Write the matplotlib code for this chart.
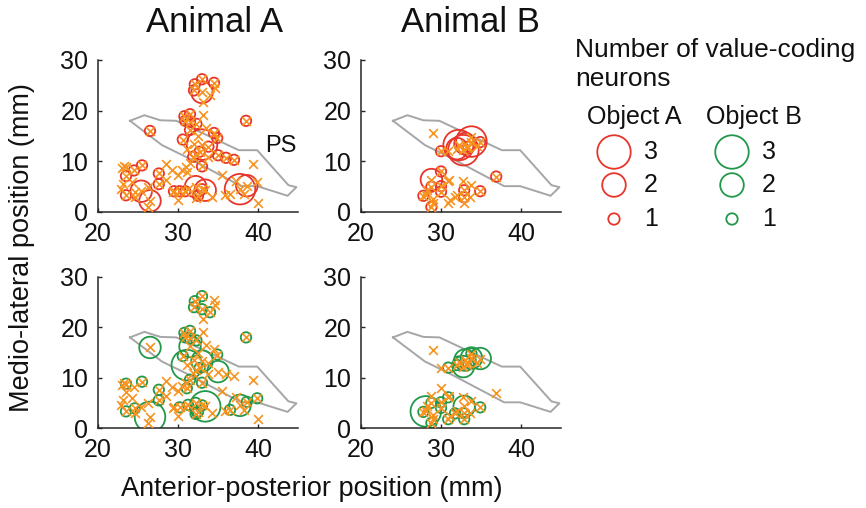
import matplotlib
matplotlib.use('Agg')
import matplotlib.pyplot as plt
import numpy as np

plt.rcParams['font.family'] = ['Liberation Sans', 'DejaVu Sans']

# ---------------- data ----------------
# Animal A recording sites: x (AP, mm), y (ML, mm), # value neurons for Object A / Object B
animalA_x = [33.0, 34.5, 32.1, 32.0, 33.0, 34.6, 34.0, 33.1,
             30.8, 31.5, 30.9, 31.5, 32.3, 33.1, 31.5, 30.6, 34.5, 34.9, 33.0, 33.8,
             32.7, 31.1, 31.9, 33.0, 35.0, 36.0, 37.0, 38.5, 26.5, 31.5, 31.1,
             32.5, 33.5, 32.0, 33.8, 32.3, 39.4, 35.5, 37.3, 35.9, 40.0,
             37.75, 38.6, 39.9, 36.5, 38.2,
             33.4, 29.5, 30.2, 30.9, 32.2, 32.5, 33.0, 32.2, 31.25, 29.4, 30.0, 34.2,
             25.5, 24.5, 23.5, 27.6, 27.6, 23.5, 25.4, 26.5, 23.5, 24.6,
             28.5, 28.5, 30.0, 31.0, 23.1, 22.9, 24.2, 26.25, 26.25, 24.6, 23.0, 23.3, 30.5, 29.2]
animalA_y = [26.2, 25.5, 25.2, 24.0, 23.6, 24.4, 23.0, 21.7,
             18.9, 19.3, 18.0, 17.8, 17.4, 19.1, 16.2, 14.3, 15.6, 14.6, 13.3, 12.9,
             11.9, 12.5, 10.9, 9.0, 11.2, 10.7, 10.3, 18.0, 16.0, 9.6, 7.9,
             15.0, 16.5, 13.5, 10.8, 11.5, 9.5, 7.4, 6.2, 3.4, 1.8,
             4.5, 5.2, 5.9, 3.6, 3.5,
             4.3, 4.1, 4.1, 4.1, 5.0, 3.2, 4.5, 2.8, 4.6, 3.9, 2.4, 3.0,
             9.2, 8.2, 7.1, 7.6, 5.5, 3.3, 4.1, 2.2, 8.8, 3.9,
             9.4, 6.3, 7.4, 8.9, 5.6, 4.6, 5.9, 5.0, 0.9, 2.9, 8.6, 9.0, 8.3, 8.2]
animalA_objA = [1, 1, 1, 1, 2, 0, 0, 0,
                1, 1, 1, 1, 1, 0, 1, 1, 1, 1, 3, 1,
                1, 0, 1, 1, 1, 1, 1, 1, 1, 0, 0,
                0, 0, 0, 0, 0, 0, 0, 0, 0, 0,
                3, 2, 0, 0, 0,
                2, 1, 1, 1, 2, 1, 1, 0, 0, 0, 0, 0,
                1, 1, 1, 1, 1, 1, 2, 2, 0, 0,
                0, 0, 0, 0, 0, 0, 0, 0, 0, 0, 0, 0, 0, 0]
animalA_objB = [1, 0, 1, 1, 1, 0, 1, 0,
                1, 1, 1, 1, 1, 0, 2, 1, 0, 1, 2, 0,
                1, 3, 0, 1, 2, 0, 0, 1, 2, 1, 1,
                0, 0, 0, 0, 0, 0, 0, 0, 0, 0,
                2, 1, 1, 1, 0,
                3, 0, 1, 0, 1, 1, 1, 1, 1, 0, 0, 0,
                1, 0, 0, 1, 1, 1, 0, 3, 1, 1,
                0, 0, 0, 0, 0, 0, 0, 0, 0, 0, 0, 0, 0, 0]

# Animal B recording sites
animalB_x = [29.0, 30.0, 36.9, 30.0, 32.2, 33.0, 33.8, 34.9, 32.0, 32.8, 33.4, 33.8, 30.9, 34.5, 33.2,
             28.8, 28.8, 30.0, 30.0, 27.8, 28.8, 32.9, 32.9, 34.9, 28.1, 30.9, 30.9, 31.75, 32.9,
             31.0, 32.8, 33.8, 31.1, 32.0, 33.6, 28.2, 29.0, 29.0]
animalB_y = [15.5, 12.0, 7.0, 8.0, 13.2, 13.5, 13.9, 13.8, 12.5, 12.2, 12.9, 14.8, 12.0, 13.0, 12.6,
             6.4, 5.0, 5.1, 4.0, 3.2, 1.0, 4.3, 2.9, 4.1, 3.3, 6.1, 1.75, 2.9, 1.75,
             6.3, 6.2, 5.3, 2.3, 3.3, 3.0, 4.3, 2.6, 1.8]
animalB_objA = [0, 1, 1, 1, 3, 2, 3, 1, 2, 3, 1, 0, 0, 0, 0,
                2, 1, 1, 1, 1, 1, 1, 1, 1, 0, 0, 0, 0, 0,
                0, 0, 0, 0, 0, 0, 0, 0, 0]
animalB_objB = [0, 0, 0, 0, 1, 2, 2, 2, 1, 2, 0, 1, 1, 0, 0,
                0, 1, 1, 1, 1, 1, 2, 1, 1, 3, 1, 1, 1, 1,
                0, 0, 0, 0, 0, 0, 0, 0, 0]

# principal sulcus outline
ps_x = [24.0, 25.8, 27.8, 29.8, 37.6, 39.9, 43.8, 44.8, 43.7, 39.9, 37.9, 31.1, 28.0, 24.0]
ps_y = [18.0, 19.1, 18.1, 18.0, 12.2, 12.2, 5.3, 4.9, 3.2, 5.1, 5.1, 10.8, 13.2, 18.0]

legend_counts = [3, 2, 1]
titles = ['Animal A', 'Animal B']

# ---------------- style ----------------
RED = '#E8352B'
GREEN = '#22984A'
ORANGE = '#F7931E'
GRAY = '#A6A6A6'
AXC = '#262626'
diam = {1: 7.5, 2: 15.5, 3: 22.0}  # marker diameter in points

W, H = 866, 508
fig = plt.figure(figsize=(W / 100, H / 100), dpi=100)

def px_axes(x0, y0, x1, y1):
    return fig.add_axes([x0 / W, 1 - y1 / H, (x1 - x0) / W, (y1 - y0) / H])

ax_boxes = [[(98, 60, 298, 212), (361, 60, 561, 212)],
            [(98, 277, 298, 428), (361, 277, 561, 428)]]

animals = [(animalA_x, animalA_y, animalA_objA, animalA_objB),
           (animalB_x, animalB_y, animalB_objA, animalB_objB)]

for r in range(2):
    for c in range(2):
        ax = px_axes(*ax_boxes[r][c])
        xs, ys, ca, cb = animals[c]
        counts = ca if r == 0 else cb
        col = RED if r == 0 else GREEN
        ax.plot(ps_x, ps_y, color=GRAY, lw=1.4, zorder=1)
        xs_a = np.array(xs); ys_a = np.array(ys); cn = np.array(counts)
        m = cn > 0
        ax.scatter(xs_a[m], ys_a[m], s=[diam[k] ** 2 for k in cn[m]], facecolors='none',
                   edgecolors=col, linewidths=1.3, zorder=2)
        ax.scatter(xs_a, ys_a, marker='x', s=40, color=ORANGE, linewidths=1.2, zorder=3)
        if r == 0 and c == 0:
            ax.text(40.9, 13.0, 'PS', fontsize=17, va='center', ha='left', color='#111111')
        ax.set_xlim(20, 45)
        ax.set_ylim(0, 30)
        ax.set_xticks([20, 30, 40])
        ax.set_yticks([0, 10, 20, 30])
        for s in ['top', 'right']:
            ax.spines[s].set_visible(False)
        for s in ['left', 'bottom']:
            ax.spines[s].set_color(AXC)
            ax.spines[s].set_linewidth(1.1)
        ax.tick_params(direction='in', length=3, width=1, colors=AXC, labelsize=18,
                       labelcolor='#111111')
        ax.tick_params(axis='x', pad=7)
        ax.tick_params(axis='y', pad=7)
        ax.patch.set_alpha(0)

for c in range(2):
    cx = [215, 470][c]
    fig.text(cx / W, 1 - 22 / H, titles[c], fontsize=25, ha='center', va='center', color='#111111')

fig.text(22 / W, 1 - 248 / H, 'Medio-lateral position (mm)', rotation=90, fontsize=19.5,
         ha='center', va='center', color='#111111')
fig.text(312 / W, 1 - 489 / H, 'Anterior-posterior position (mm)', fontsize=19.5,
         ha='center', va='center', color='#111111')

# ---------------- legend ----------------
lax = fig.add_axes([0, 0, 1, 1], zorder=-1)
lax.set_xlim(0, W)
lax.set_ylim(H, 0)
lax.axis('off')
lax.text(575, 50, 'Number of value-coding', fontsize=19, ha='left', va='center', color='#111111')
lax.text(575, 79, 'neurons', fontsize=19, ha='left', va='center', color='#111111')
lax.text(634, 117, 'Object A', fontsize=18, ha='center', va='center', color='#111111')
lax.text(754, 117, 'Object B', fontsize=18, ha='center', va='center', color='#111111')
rows_y = [152, 185, 219]
for k, yy in zip(legend_counts, rows_y):
    lax.scatter([614], [yy], s=diam[k] ** 2 * 1.2, facecolors='none', edgecolors=RED, linewidths=1.3)
    lax.scatter([732], [yy], s=diam[k] ** 2 * 1.2, facecolors='none', edgecolors=GREEN, linewidths=1.3)
    lax.text(651, yy, str(k), fontsize=18, ha='center', va='center', color='#111111')
    lax.text(769, yy, str(k), fontsize=18, ha='center', va='center', color='#111111')

fig.savefig('out.png', dpi=100)
